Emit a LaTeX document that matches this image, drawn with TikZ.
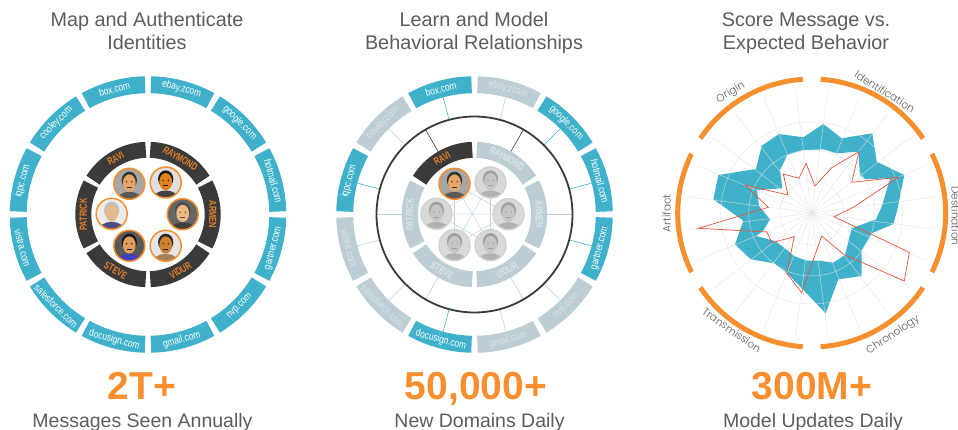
\documentclass[tikz,border=0pt]{standalone}
\usepackage{fontspec}
\usepackage{xcolor}
\usetikzlibrary{calc}
\setmainfont{Liberation Sans}
\newfontfamily\narrowfont[FakeStretch=0.8]{Liberation Sans}
\newfontfamily\namefont[FakeStretch=0.72, UprightFont=* Bold]{Liberation Sans}
\newfontfamily\radarfont[UprightFont=* Light]{Poppins}

\definecolor{ringteal}{HTML}{3FB1CB}
\definecolor{ringdark}{HTML}{3A3A3A}
\definecolor{ringorange}{HTML}{F78F2E}
\definecolor{namegold}{HTML}{E5822B}
\definecolor{ghost}{HTML}{BDCDD4}
\definecolor{ghostink}{HTML}{DCE5E9}
\definecolor{ghostline}{HTML}{BBD3DB}
\definecolor{headgray}{HTML}{5C5C5C}
\definecolor{gridgray}{HTML}{E2E2E2}
\definecolor{tracered}{HTML}{E8523A}

\tikzset{
  headtext/.style={anchor=base, text=headgray, font=\fontsize{19.8}{23}\selectfont},
  bigtext/.style={anchor=base, text=ringorange, font=\fontsize{39}{44}\selectfont\bfseries},
  subtext/.style={anchor=base, text=headgray, font=\fontsize{19.5}{23}\selectfont},
  domaintext/.style={inner sep=0pt, font=\narrowfont\fontsize{10.5}{12}\selectfont},
  nametext/.style={inner sep=0pt, font=\namefont\fontsize{10.4}{12}\selectfont},
  radartext/.style={inner sep=0pt, text=headgray, text height=8pt, text depth=0pt,
    font=\radarfont\fontsize{10.6}{13}\selectfont},
  photoring/.style={circle, draw, line width=1.5pt, minimum size=31pt, inner sep=0pt},
}

%► ring segment: centre, mid angle, half span, radius, width, colour
\newcommand{\ringseg}[6]{%
  \draw[line width=#5pt, #6] ($(#1)+(#2-#3:#4)$) arc[start angle=#2-#3, end angle=#2+#3, radius=#4];}
%► little portrait: name, background, skin, hair, shirt, ring colour
\newcommand{\facepic}[6]{%
  \begin{scope}
    \clip (#1) circle (15.5);
    \fill[#2] (#1) circle (15.5);
    \fill[#5] ($(#1)+(0,-17)$) ellipse (13 and 9);
    \fill[#4] ($(#1)+(0,3.5)$) ellipse (7.6 and 8.6);
    \fill[#3] ($(#1)+(0,0.8)$) ellipse (6.4 and 8.6);
    \fill[#4] ($(#1)+(-2.6,2)$) circle (0.8);
    \fill[#4] ($(#1)+(2.6,2)$) circle (0.8);
    \draw[#4, line width=0.7pt] ($(#1)+(-2.6,-3.2)$) -- ($(#1)+(2.6,-3.2)$);
  \end{scope}
  \node[photoring, draw=#6] (#1ring) at (#1) {};}

\begin{document}
\begin{tikzpicture}[x=1pt, y=1pt]
  \useasboundingbox (0,-430) rectangle (958,0);

  %► Centres of the three panels
  \coordinate (cA) at (148,-214.5);
  \coordinate (cB) at (474.5,-214.5);
  \coordinate (cC) at (811.7,-213);

  %► Headings and figures
  \node[headtext] (headA1) at (147,-27) {Map and Authenticate};
  \node[headtext] (headA2) at (147,-50) {Identities};
  \node[headtext] (headB1) at (474,-27) {Learn and Model};
  \node[headtext] (headB2) at (474,-50) {Behavioral Relationships};
  \node[headtext] (headC1) at (806,-27) {Score Message vs.};
  \node[headtext] (headC2) at (806,-50) {Expected Behavior};
  \node[bigtext] (bigA) at (142,-399.5) {2T+};
  \node[bigtext] (bigB) at (476,-399.5) {50,000+};
  \node[bigtext] (bigC) at (812,-399.5) {300M+};
  \node[subtext] (subA) at (142.5,-427) {Messages Seen Annually};
  \node[subtext] (subB) at (479.5,-427) {New Domains Daily};
  \node[subtext] (subC) at (813,-427) {Model Updates Daily};

  %► Left panel: domains
  \foreach \name/\ang [count=\i] in {ebay.zcom/75, google.com/45, hotmail.com/15, gartner.com/-15,
      nvp.com/-45, gmail.com/-75, docusign.com/-105, salesforce.com/-135, vistra.com/-165,
      iqpc.com/165, cooley.com/135, box.com/105} {
    \pgfmathsetmacro\rot{\ang>0 ? \ang-90 : \ang+90}
    \ringseg{cA}{\ang}{13.7}{129.8}{17}{ringteal}
    \node[domaintext, text=white, rotate=\rot] (domA\i) at ($(cA)+(\ang:129.8)$) {\name};
  }

  %► Left panel: names
  \foreach \name/\ang/\rot in {RAVI/120/30, RAYMOND/60/-30, ARMEN/0/-90, VIDUR/-60/30, STEVE/-120/-30, PATRICK/180/90} {
    \ringseg{cA}{\ang}{28}{64.7}{16}{ringdark}
    \node[nametext, text=namegold, rotate=\rot] (nameA\name) at ($(cA)+(\ang:64.7)$) {\name};
  }

  %► Left panel: portraits
  \coordinate (aRavi) at ($(cA)+(-18.7,30.7)$);
  \coordinate (aRaymond) at ($(cA)+(17.7,32)$);
  \coordinate (aArmen) at ($(cA)+(34.7,0.3)$);
  \coordinate (aVidur) at ($(cA)+(17.7,-31.3)$);
  \coordinate (aSteve) at ($(cA)+(-18.7,-31.3)$);
  \coordinate (aPatrick) at ($(cA)+(-36.3,0.7)$);
  \facepic{aRavi}{gray!70}{brown!55!orange!70}{black!80}{black!65}{ringorange}
  \facepic{aRaymond}{gray!25}{orange!55!brown}{black!90}{black!75}{ringorange}
  \facepic{aArmen}{black!60}{brown!50!orange!55}{black!70}{black!75}{ringorange}
  \facepic{aVidur}{gray!20}{brown!75!orange}{black!85}{brown!60!gray}{ringorange}
  \facepic{aSteve}{black!65}{brown!65!orange!75}{black!90}{blue!50!gray}{ringorange}
  \facepic{aPatrick}{gray!15}{orange!35!brown!55}{gray!50}{blue!30!black!70}{ringorange}

  %► Middle panel: web behind the portraits
  \coordinate (bRavi) at ($(cB)+(-20,30.7)$);
  \coordinate (bRaymond) at ($(cB)+(16,32)$);
  \coordinate (bArmen) at ($(cB)+(34,0.3)$);
  \coordinate (bVidur) at ($(cB)+(16,-30.7)$);
  \coordinate (bSteve) at ($(cB)+(-20,-30.7)$);
  \coordinate (bPatrick) at ($(cB)+(-38,0.7)$);
  \foreach \from/\to in {bRavi/bArmen, bRavi/bVidur, bRavi/bSteve, bRaymond/bVidur, bRaymond/bSteve,
      bRaymond/bPatrick, bArmen/bSteve, bArmen/bPatrick, bVidur/bPatrick}
    \draw[ghostline, line width=0.5pt] (\from) -- (\to);

  %► Middle panel: spokes, then rings on top
  \foreach \ang/\hue in {75/ghostline, 45/ringteal, 15/ringteal, -15/ringteal, -45/ghostline, -75/ghostline,
      -105/ringteal, -135/ghostline, -165/ghostline, 165/ringteal, 135/ghostline, 105/ringteal} {
    \coordinate (in) at ($(cB)+(\ang:98)$);
    \coordinate (out) at ($(cB)+(\ang:122)$);
    \draw[\hue, line width=0.6pt] (in) -- (out);
  }
  \foreach \ang/\hue in {120/ringdark, 60/ringdark, 0/ghostline, -60/ghostline, -120/ghostline, 180/ghostline} {
    \coordinate (in) at ($(cB)+(\ang:72)$);
    \coordinate (out) at ($(cB)+(\ang:98)$);
    \draw[\hue, line width=0.6pt] (in) -- (out);
  }
  \draw[ringdark, line width=1.8pt] (cB) circle (98);

  \foreach \name/\ang/\hue/\ink [count=\i] in {ebay.zcom/75/ghost/ghostink, google.com/45/ringteal/white,
      hotmail.com/15/ringteal/white, gartner.com/-15/ringteal/white, nvp.com/-45/ghost/ghostink,
      gmail.com/-75/ghost/ghostink, docusign.com/-105/ringteal/white, salesforce.com/-135/ghost/ghostink,
      vistra.com/-165/ghost/ghostink, iqpc.com/165/ringteal/white, cooley.com/135/ghost/ghostink,
      box.com/105/ringteal/white} {
    \pgfmathsetmacro\rot{\ang>0 ? \ang-90 : \ang+90}
    \ringseg{cB}{\ang}{13.7}{129.8}{17}{\hue}
    \node[domaintext, text=\ink, rotate=\rot] (domB\i) at ($(cB)+(\ang:129.8)$) {\name};
  }

  %► Middle panel: names
  \foreach \name/\ang/\rot/\hue/\ink in {RAVI/120/30/ringdark/namegold, RAYMOND/60/-30/ghost/ghostink,
      ARMEN/0/-90/ghost/ghostink, VIDUR/-60/30/ghost/ghostink, STEVE/-120/-30/ghost/ghostink,
      PATRICK/180/90/ghost/ghostink} {
    \ringseg{cB}{\ang}{28}{64.7}{16}{\hue}
    \node[nametext, text=\ink, rotate=\rot] (nameB\name) at ($(cB)+(\ang:64.7)$) {\name};
  }

  %► Middle panel: portraits
  \facepic{bRavi}{gray!70}{brown!55!orange!70}{black!80}{black!65}{ringorange}
  \foreach \who in {bRaymond, bArmen, bVidur, bSteve, bPatrick} {
    \facepic{\who}{gray!30}{gray!45}{gray!75}{gray!60}{gray!35}
  }

  %► Right panel: teal band with its hole
  \fill[ringteal, even odd rule]
    (803.3,-137.3) -- (779,-134) -- (761.7,-145.7) -- (756,-169) -- (718.3,-175) -- (713.3,-199.3)
    -- (743.3,-220.7) -- (735,-244.3) -- (750.7,-259.3) -- (774,-263.3) -- (786.7,-272.7) -- (825.7,-313.3)
    -- (838.3,-279.3) -- (861.7,-276) -- (861.7,-250) -- (871.7,-233.3) -- (893.3,-224) -- (897.3,-210)
    -- (904.3,-175) -- (876.7,-161.7) -- (872.3,-133.3) -- (841.7,-138.3) -- (823.3,-124) -- cycle
    (803.3,-150) -- (810,-150) -- (823.3,-149.3) -- (836.7,-153.3) -- (858.3,-151.7) -- (860,-175)
    -- (865,-179.3) -- (890,-178.3) -- (881.7,-206.7) -- (876,-219.3) -- (851.7,-228.3) -- (845,-255)
    -- (833.3,-262.7) -- (820,-260.7) -- (806.7,-260.7) -- (794,-256) -- (787,-250) -- (775,-241)
    -- (756,-236) -- (763,-231) -- (770,-219.3) -- (759,-206) -- (757,-190) -- (782.3,-188.3)
    -- (780,-170) -- (787.3,-155) -- cycle;

  %► Right panel: grid
  \foreach \r in {32, 63, 91}
    \draw[gridgray, opacity=0.8, line width=0.5pt] (cC) circle (\r);
  \foreach \ang in {7.5, 22.5, ..., 352.5}
    \draw[gridgray, opacity=0.8, line width=0.5pt] (cC) -- ($(cC)+(\ang:124)$);

  %► Right panel: red trace
  \draw[tracered, line width=0.7pt, line join=miter]
    (806,-163.3) -- (799,-178.3) -- (783.3,-174) -- (788,-195) -- (745,-185) -- (768.3,-207.3)
    -- (698.3,-228.3) -- (761.7,-231.7) -- (766.7,-231.7) -- (771.7,-242.7) -- (794.3,-236.7) -- (786.7,-273.3)
    -- (801.7,-292.7) -- (821.7,-236) -- (843.3,-254.3) -- (904.3,-281) -- (909.3,-252.3) -- (834,-216.7)
    -- (853.3,-207.3) -- (898.3,-177.3) -- (851.7,-182.3) -- (859,-151.7) -- (831.7,-167.7) -- (815,-186) -- cycle;

  %► Right panel: orange rim and its labels
  \foreach \ang in {120, 60, 0, -60, -120, 180} {
    \ringseg{cC}{\ang}{26.2}{134}{5}{ringorange}
  }
  \node[radartext, rotate=31] (axisOrigin) at (730,-91.7) {Origin};
  \node[radartext, rotate=-32] (axisIdent) at (885,-91.7) {Identification};
  \node[radartext, rotate=-90] (axisDest) at (955.5,-216) {Destination};
  \node[radartext, rotate=90] (axisArtifact) at (666.7,-213.3) {Artifact};
  \node[radartext, rotate=-35] (axisTrans) at (731.7,-330) {Transmission};
  \node[radartext, rotate=34] (axisChrono) at (892.3,-334) {Chronology};
\end{tikzpicture}
\end{document}
